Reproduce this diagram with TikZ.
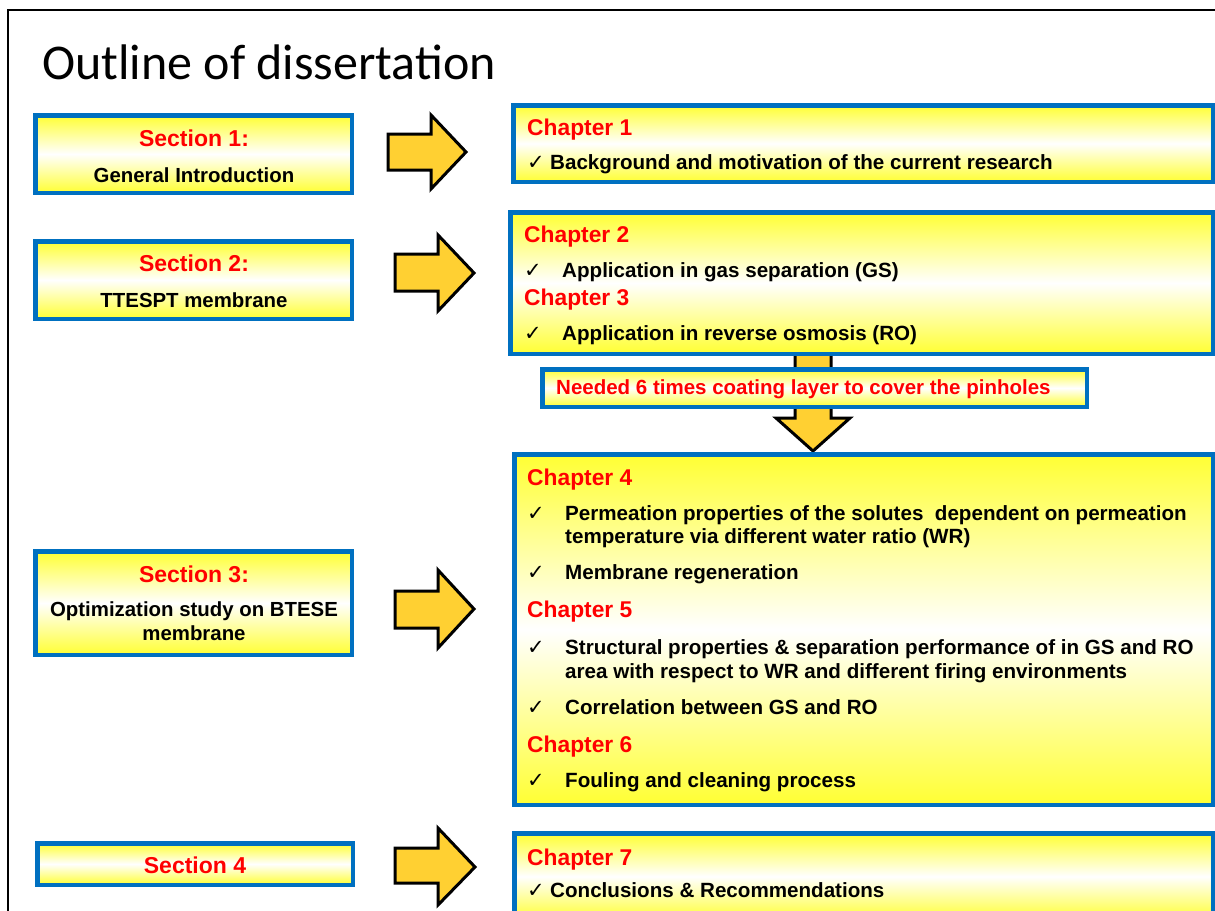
\documentclass[tikz,border=0pt]{standalone}
\usepackage{fontspec}
\setmainfont{Liberation Sans}
\newfontfamily\titlefont{Carlito}
\newfontfamily\tickfont{DejaVu Sans}

\definecolor{boxblue}{RGB}{0,112,192}
\definecolor{boxyellow}{RGB}{255,255,51}
\definecolor{arrowgold}{RGB}{255,208,50}
\definecolor{headred}{RGB}{255,0,0}

\tikzset{
  panel/.style={draw=boxblue, line width=4.5pt, rectangle, inner sep=0pt,
    top color=boxyellow, bottom color=boxyellow, middle color=white},
  blockarrow/.style={draw=black, line width=3pt, fill=arrowgold, line join=miter},
  sechead/.style={anchor=base, inner sep=0pt, text=headred, font=\fontsize{23}{23}\selectfont\bfseries},
  secline/.style={anchor=base, inner sep=0pt, font=\fontsize{20.4}{20.4}\selectfont\bfseries},
  chaphead/.style={anchor=base west, inner sep=0pt, text=headred, font=\fontsize{22.8}{22.8}\selectfont\bfseries},
  chapline/.style={anchor=base west, inner sep=0pt, font=\fontsize{20.6}{20.6}\selectfont\bfseries},
  tick/.style={anchor=base west, inner sep=0pt, font=\fontsize{21}{21}\tickfont\bfseries},
}

\begin{document}
\begin{tikzpicture}[x=1pt,y=-1pt]
\useasboundingbox (0,0) rectangle (1215,910);
\clip (0,0) rectangle (1215,910);

% frame and title
\draw[line width=2pt] (8,920) -- (8,10) -- (1225,10);
\node[anchor=base west, inner sep=0pt, font=\fontsize{50}{50}\titlefont] (title) at (42,79) {Outline of dissertation};

% arrows
\draw[blockarrow] (795,350) -- (795,418) -- (776,418) -- (813,451) -- (850,418) -- (831,418) -- (831,350) -- cycle;
\draw[blockarrow] (388,134) -- (431,134) -- (431,115) -- (466,152) -- (431,189) -- (431,170) -- (388,170) -- cycle;
\draw[blockarrow] (395,254) -- (438,254) -- (438,235) -- (474,273) -- (438,311) -- (438,291) -- (395,291) -- cycle;
\draw[blockarrow] (395,591) -- (438,591) -- (438,570) -- (474,609) -- (438,648) -- (438,628) -- (395,628) -- cycle;
\draw[blockarrow] (395,848) -- (438,848) -- (438,828) -- (475,867) -- (438,905) -- (438,883) -- (395,883) -- cycle;

% sections
\node[panel, minimum width=316.5pt, minimum height=77.5pt] (s1) at (193.5,154) {};
\node[panel, minimum width=316.5pt, minimum height=77.5pt] (s2) at (193.5,280) {};
\node[panel, minimum width=316.5pt, minimum height=103.5pt] (s3) at (193.5,603) {};
\node[panel, minimum width=315.5pt, minimum height=41.5pt] (s4) at (195,864) {};

\node[sechead] (s1h) at (194,146) {Section 1:};
\node[secline] (s1t) at (194,182) {General Introduction};
\node[sechead] (s2h) at (194,271) {Section 2:};
\node[secline] (s2t) at (194,307) {TTESPT membrane};
\node[sechead] (s3h) at (194,582) {Section 3:};
\node[secline] (s3t) at (194,616) {Optimization study on BTESE};
\node[secline] (s3u) at (194,640) {membrane};
\node[sechead] (s4h) at (195,873) {Section 4};

% chapters
\node[panel, minimum width=699.5pt, minimum height=76.5pt] (c1) at (863,143.5) {};
\node[panel, minimum width=702.5pt, minimum height=141.5pt] (c23) at (861.5,283) {};
\node[panel, minimum width=544.5pt, minimum height=37.5pt] (note) at (814.5,388) {};
\node[panel, minimum width=698.5pt, minimum height=350.5pt] (c46) at (863.5,629.5) {};
\node[panel, minimum width=698.5pt, minimum height=86.5pt] (c7) at (863.5,876.5) {};

\node[chaphead] (c1h) at (527,135) {Chapter 1};
\node[tick] (c1k) at (527,169) {✓};
\node[chapline] (c1t) at (550,169) {Background and motivation of the current research};

\node[chaphead] (c2h) at (524,242) {Chapter 2};
\node[tick] (c2k) at (524,277) {✓};
\node[chapline] (c2t) at (562,277) {Application in gas separation (GS)};
\node[chaphead] (c3h) at (524,305) {Chapter 3};
\node[tick] (c3k) at (524,340) {✓};
\node[chapline] (c3t) at (562,340) {Application in reverse osmosis (RO)};

\node[chaphead, font=\fontsize{20.5}{20.5}\selectfont\bfseries] (notet) at (556,394) {Needed 6 times coating layer to cover the pinholes};

\node[chaphead] (c4h) at (527,485) {Chapter 4};
\node[tick] (c4k) at (527,520) {✓};
\node[chapline] (c4t) at (565,520) {Permeation properties of the solutes\ \ dependent on permeation};
\node[chapline] (c4u) at (565,543) {temperature via different water ratio (WR)};
\node[tick] (c4l) at (527,579) {✓};
\node[chapline] (c4v) at (565,579) {Membrane regeneration};
\node[chaphead] (c5h) at (527,617) {Chapter 5};
\node[tick] (c5k) at (527,654) {✓};
\node[chapline] (c5t) at (565,654) {Structural properties \& separation performance of in GS and RO};
\node[chapline] (c5u) at (565,678) {area with respect to WR and different firing environments};
\node[tick] (c5l) at (527,714) {✓};
\node[chapline] (c5v) at (565,714) {Correlation between GS and RO};
\node[chaphead] (c6h) at (527,752) {Chapter 6};
\node[tick] (c6k) at (527,787) {✓};
\node[chapline] (c6t) at (565,787) {Fouling and cleaning process};

\node[chaphead] (c7h) at (527,865) {Chapter 7};
\node[tick] (c7k) at (527,897) {✓};
\node[chapline] (c7t) at (550,897) {Conclusions \& Recommendations};
\end{tikzpicture}
\end{document}
